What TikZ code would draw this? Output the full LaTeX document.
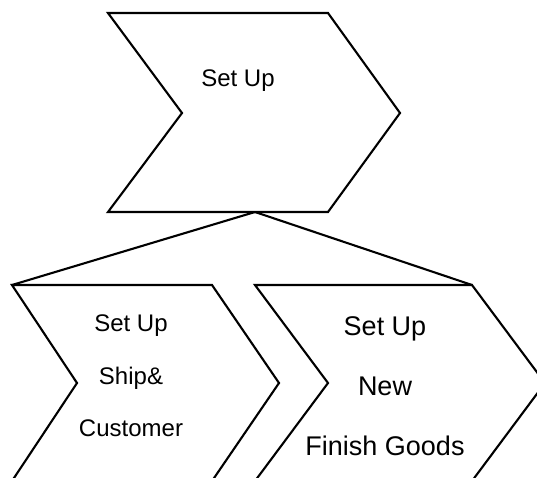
\documentclass[tikz,border=0pt]{standalone}
\usepackage{fontspec}
\setmainfont{Liberation Sans}
\usetikzlibrary{positioning}

\begin{document}
\begin{tikzpicture}[x=1pt,y=-1pt,line width=2.1pt,line join=miter,
  steptext/.style={anchor=base,inner sep=0pt,font=\fontsize{24}{24}\selectfont},
  steptextbig/.style={anchor=base,inner sep=0pt,font=\fontsize{27}{27}\selectfont}]
  \useasboundingbox (0,0) rectangle (537,477);
  \clip (0,0) rectangle (537,477);
  % top step
  \draw (108,13) -- (328,13) -- (400,113) -- (328,212) -- (108,212) -- (182,113) -- cycle;
  \coordinate (fork) at (255,212);
  \node[steptext] (setup) at (238,86) {Set Up};
  % left step
  \draw (12,285) coordinate (leftcorner) -- (212,285) -- (279,383) -- (212,481) -- (12,481) -- (77,383) -- cycle;
  \node[steptext] (ship1) at (131,331) {Set Up};
  \node[steptext] (ship2) at (131,384) {Ship\&};
  \node[steptext] (ship3) at (131,436) {Customer};
  % right step
  \draw (255,285) -- (472,285) coordinate (rightcorner) -- (545,383) -- (472,481) -- (255,481) -- (328,383) -- cycle;
  \node[steptextbig] (fin1) at (385,335) {Set Up};
  \node[steptextbig] (fin2) at (385,395) {New};
  \node[steptextbig] (fin3) at (385,455) {Finish Goods};
  % fork lines
  \draw (fork) -- (leftcorner);
  \draw (fork) -- (rightcorner);
\end{tikzpicture}
\end{document}
